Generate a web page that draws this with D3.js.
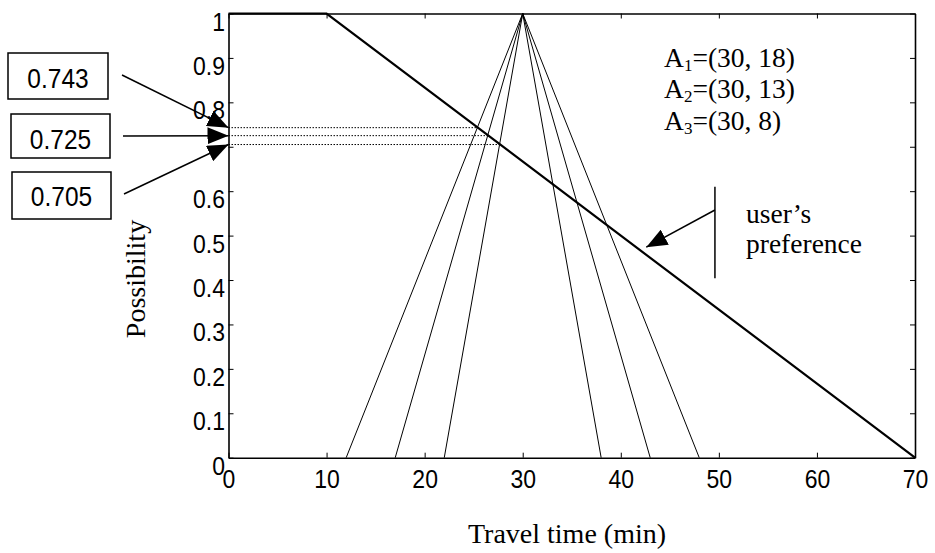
<!DOCTYPE html>
<html>
<head>
<meta charset="utf-8">
<script src="https://cdn.jsdelivr.net/npm/d3@7"></script>
<style>
  body { margin: 0; background: #fff; }
  svg { display: block; }
</style>
</head>
<body>
<div id="chart"></div>
<script>
// user's preference: piecewise linear
var prefX = [0, 10, 70];
var prefY = [1, 1, 0];

// triangular fuzzy travel times A = (centre, spread)
var fuzzyNames = ["1", "2", "3"];
var fuzzyCentre = [30, 30, 30];
var fuzzySpread = [18, 13, 8];

// possibility where each A meets the preference line
var crossValues = [0.743, 0.725, 0.705];

var xTicks = [0, 10, 20, 30, 40, 50, 60, 70];
var yTicks = [0, 0.1, 0.2, 0.3, 0.4, 0.5, 0.6, 0.7, 0.8, 0.9, 1];
var yTickLabels = ["0", "0.1", "0.2", "0.3", "0.4", "0.5", "0.6", "", "0.8", "0.9", "1"];

var W = 935, H = 553;
var sans = "'Liberation Sans', Arial, sans-serif";
var serif = "'Liberation Serif', 'Times New Roman', serif";
var stretch = 1.15; // sans labels in the original look a bit tall

var svg = d3.select("#chart").append("svg")
  .attr("width", W).attr("height", H);

var defs = svg.append("defs");
defs.append("marker")
  .attr("id", "head")
  .attr("viewBox", "0 0 21 17")
  .attr("refX", 21).attr("refY", 8.5)
  .attr("markerWidth", 21).attr("markerHeight", 17)
  .attr("markerUnits", "userSpaceOnUse")
  .attr("orient", "auto")
  .append("path").attr("d", "M0,0 L21,8.5 L0,17 Z").attr("fill", "#000");

var x = d3.scaleLinear().domain([0, 70]).range([228.5, 915]);
var y = d3.scaleLinear().domain([0, 1]).range([457.7, 13.5]);

// frame + ticks (inward)
var gb = svg.append("g").attr("transform", "translate(0," + y(0) + ")")
  .call(d3.axisBottom(x).tickValues(xTicks).tickSize(-5).tickSizeOuter(0));
var gt = svg.append("g").attr("transform", "translate(0," + y(1) + ")")
  .call(d3.axisTop(x).tickValues(xTicks).tickSize(-5).tickSizeOuter(0).tickFormat(""));
var gl = svg.append("g").attr("transform", "translate(" + x(0) + ",0)")
  .call(d3.axisLeft(y).tickValues(yTicks).tickSize(-5).tickSizeOuter(0).tickPadding(3.5)
    .tickFormat(function(d, i) { return yTickLabels[i]; }));
var gr = svg.append("g").attr("transform", "translate(" + x(70) + ",0)")
  .call(d3.axisRight(y).tickValues(yTicks).tickSize(-5).tickSizeOuter(0).tickFormat(""));

[gb, gt, gl, gr].forEach(function(g) {
  g.select(".domain").attr("stroke", "#000").attr("stroke-width", 1.6);
  g.selectAll(".tick line").attr("stroke", "#000").attr("stroke-width", 1);
  g.selectAll("text").attr("font-family", sans).attr("font-size", 23).attr("fill", "#000");
});
gb.selectAll(".tick text")
  .attr("y", 30.5 / stretch).attr("dy", 0)
  .attr("transform", "scale(1," + stretch + ")");
gl.selectAll(".tick text")
  .attr("y", 16.5 / stretch).attr("dy", 0)
  .attr("transform", "scale(1," + stretch + ")");

// axis titles
svg.append("text")
  .attr("x", 567).attr("y", 543)
  .attr("text-anchor", "middle")
  .attr("font-family", serif).attr("font-size", 28)
  .text("Travel time (min)");
svg.append("text")
  .attr("transform", "translate(145,279) rotate(-90)")
  .attr("text-anchor", "middle")
  .attr("font-family", serif).attr("font-size", 28)
  .text("Possibility");

var line = d3.line().x(function(d) { return x(d[0]); }).y(function(d) { return y(d[1]); });

// triangles
fuzzyCentre.forEach(function(c, i) {
  var s = fuzzySpread[i];
  svg.append("path")
    .attr("d", line([[c - s, 0], [c, 1], [c + s, 0]]))
    .attr("fill", "none").attr("stroke", "#000").attr("stroke-width", 1);
});

// preference line
svg.append("path")
  .attr("d", line(prefX.map(function(v, i) { return [v, prefY[i]]; })))
  .attr("fill", "none").attr("stroke", "#000").attr("stroke-width", 2.2);

// dotted levels up to where each meets the preference line
var slope = (prefY[2] - prefY[1]) / (prefX[2] - prefX[1]);
crossValues.forEach(function(v) {
  var xc = prefX[1] + (v - prefY[1]) / slope;
  svg.append("line")
    .attr("x1", x(0)).attr("x2", x(xc))
    .attr("y1", y(v)).attr("y2", y(v))
    .attr("stroke", "#000").attr("stroke-width", 1)
    .attr("stroke-dasharray", "1.5,1.5");
});

// value boxes + arrows
var boxes = [
  { x: 8, y: 53, w: 100, h: 46, tx: 122, ty: 75, base: 88 },
  { x: 11, y: 114, w: 99, h: 44, tx: 123, ty: 136, base: 149 },
  { x: 12, y: 172, w: 99, h: 47, tx: 124, ty: 194, base: 206.5 }
];
boxes.forEach(function(b, i) {
  svg.append("rect")
    .attr("x", b.x).attr("y", b.y).attr("width", b.w).attr("height", b.h)
    .attr("fill", "#fff").attr("stroke", "#000").attr("stroke-width", 1.5);
  svg.append("text")
    .attr("x", b.x + b.w / 2).attr("y", b.base / stretch)
    .attr("transform", "scale(1," + stretch + ")")
    .attr("text-anchor", "middle")
    .attr("font-family", sans).attr("font-size", 24.5)
    .text(crossValues[i]);
  svg.append("line")
    .attr("x1", b.tx).attr("y1", b.ty)
    .attr("x2", x(0)).attr("y2", y(crossValues[i]))
    .attr("stroke", "#000").attr("stroke-width", 1.5)
    .attr("marker-end", "url(#head)");
});

// legend
var leg = svg.append("g").attr("font-family", serif).attr("font-size", 27.5);
fuzzyNames.forEach(function(n, i) {
  var t = leg.append("text").attr("x", 664).attr("y", 66.7 + i * 31.7);
  t.append("tspan").text("A");
  t.append("tspan").attr("font-size", 17).attr("dy", 4).text(n);
  t.append("tspan").attr("dy", -4).text("=(" + fuzzyCentre[i] + ", " + fuzzySpread[i] + ")");
});

// user's preference annotation
svg.append("line")
  .attr("x1", x(49.6)).attr("x2", x(49.6))
  .attr("y1", y(0.61)).attr("y2", y(0.404))
  .attr("stroke", "#000").attr("stroke-width", 1.5);
svg.append("line")
  .attr("x1", x(49.6)).attr("y1", y(0.5576))
  .attr("x2", x(42.6)).attr("y2", y(0.474))
  .attr("stroke", "#000").attr("stroke-width", 1.5)
  .attr("marker-end", "url(#head)");
svg.append("text")
  .attr("x", 746).attr("y", 223)
  .attr("font-family", serif).attr("font-size", 27.5)
  .text("user\u2019s");
svg.append("text")
  .attr("x", 746).attr("y", 253)
  .attr("font-family", serif).attr("font-size", 27.5)
  .text("preference");
</script>
</body>
</html>
